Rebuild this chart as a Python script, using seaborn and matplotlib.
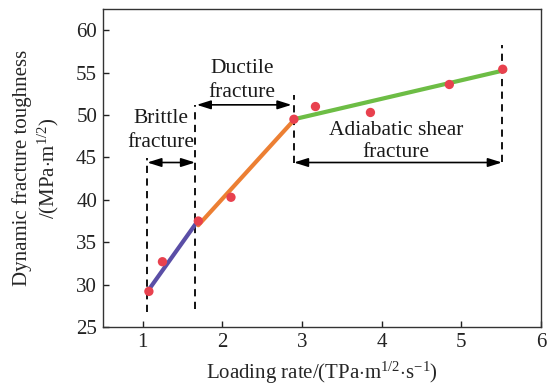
import matplotlib
matplotlib.use("Agg")
import matplotlib.pyplot as plt
import seaborn as sns
import pandas as pd

# Measured points
rate = [1.08, 1.25, 1.70, 2.11, 2.90, 3.17, 3.86, 4.85, 5.52]
toughness = [29.2, 32.7, 37.5, 40.3, 49.5, 51.0, 50.3, 53.6, 55.4]

# Fitted segments for each fracture regime
brittle_x = [1.09, 1.70]
brittle_y = [29.55, 37.6]
ductile_x = [1.70, 2.90]
ductile_y = [37.0, 49.4]
shear_x = [2.90, 5.55]
shear_y = [49.5, 55.3]

# Regime boundaries (x, y_bottom, y_top)
boundaries = [(1.06, 26.8, 44.9), (1.66, 27.1, 51.2), (2.90, 44.4, 52.4), (5.51, 44.5, 58.2)]

x_ticks = [1, 2, 3, 4, 5, 6]
y_ticks = [25, 30, 35, 40, 45, 50, 55, 60]

sns.set_theme(style="ticks")
plt.rcParams["font.family"] = ["Liberation Serif", "DejaVu Serif"]
plt.rcParams["mathtext.fontset"] = "custom"
plt.rcParams["mathtext.rm"] = "Liberation Serif"
plt.rcParams["mathtext.it"] = "Liberation Serif:italic"

fig = plt.figure(figsize=(5.47, 3.87), dpi=100)
ax = fig.add_axes([0.1877, 0.155, 0.8013, 0.8217])

seg_colors = ["#5a4ea6", "#ec7f33", "#6dbd45"]
for (sx, sy), c in zip([(brittle_x, brittle_y), (ductile_x, ductile_y), (shear_x, shear_y)], seg_colors):
    sns.lineplot(x=sx, y=sy, ax=ax, color=c, linewidth=3.0, zorder=2)

df = pd.DataFrame({"rate": rate, "toughness": toughness})
sns.scatterplot(data=df, x="rate", y="toughness", ax=ax, color="#e8414e",
                s=45, edgecolor="none", zorder=3)

for bx, y0, y1 in boundaries:
    ax.plot([bx, bx], [y0, y1], color="black", linestyle=(0, (4, 3)), linewidth=1.3, zorder=1)

arrow_kw = dict(arrowstyle="<|-|>,head_length=0.7,head_width=0.22", color="black", lw=1.2,
                shrinkA=0, shrinkB=0)
ax.annotate("", xy=(1.66, 44.4), xytext=(1.06, 44.4), arrowprops=arrow_kw)
ax.annotate("", xy=(2.87, 51.2), xytext=(1.68, 51.2), arrowprops=arrow_kw)
ax.annotate("", xy=(5.51, 44.4), xytext=(2.90, 44.4), arrowprops=arrow_kw)

fs_note = 15.5
notes = [
    (1.225, 49.1, "Brittle"), (1.225, 46.2, "fracture"),
    (2.25, 55.0, "Ductile"), (2.25, 52.1, "fracture"),
    (4.18, 47.6, "Adiabatic shear"), (4.18, 45.1, "fracture"),
]
for tx, ty, s in notes:
    ax.text(tx, ty, s, ha="center", va="baseline", fontsize=fs_note, color="#1a1a1a")

fs = 15
ax.set_xlim(0.5, 6)
ax.set_ylim(25, 62.5)
ax.set_xticks(x_ticks)
ax.set_yticks(y_ticks)
ax.tick_params(direction="in", length=4, width=1, labelsize=fs, colors="#222222", pad=4)
for sp in ax.spines.values():
    sp.set_color("#333333")
    sp.set_linewidth(1.0)
    sp.set_visible(True)

ax.set_xlabel(r"Loading rate/(TPa$\cdot$m$^{1/2}$$\cdot$s$^{\mathrm{-1}}$)", fontsize=fs, labelpad=6)
ax.set_ylabel("Dynamic fracture toughness\n" + r"/(MPa$\cdot$m$^{1/2}$)", fontsize=fs,
              labelpad=11, linespacing=1.2)

fig.savefig("out.png", dpi=100)
